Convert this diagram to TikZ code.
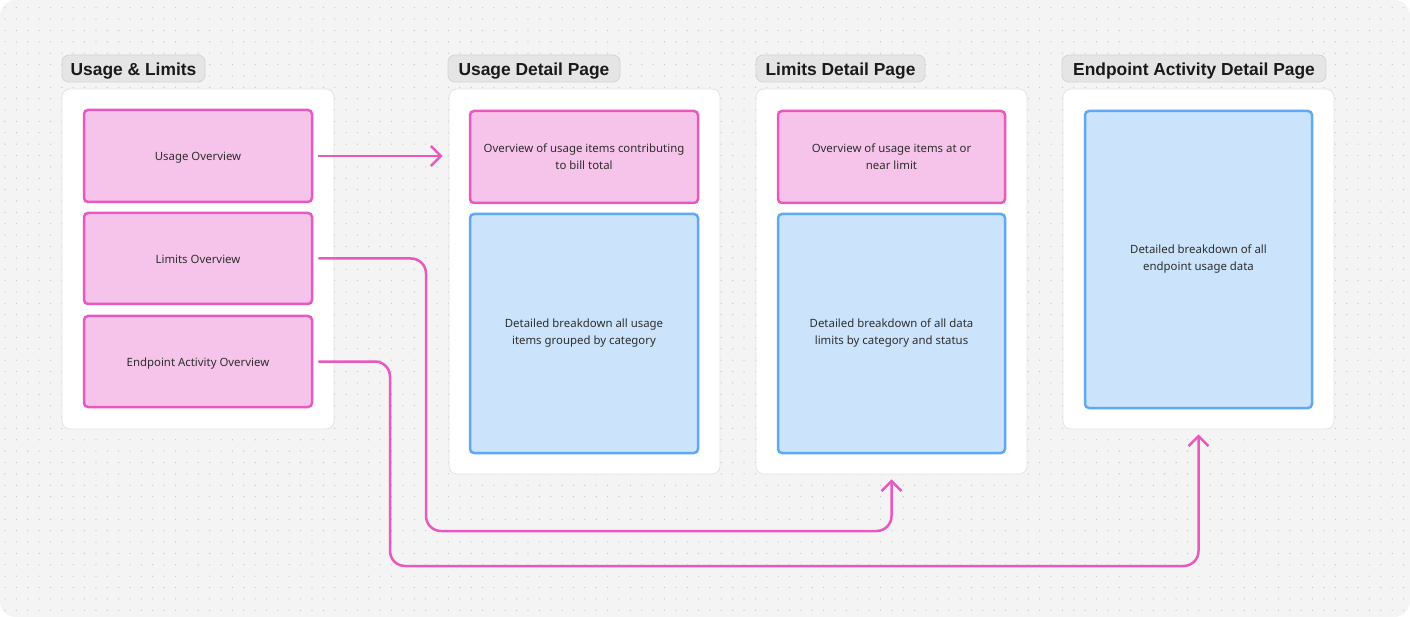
\documentclass[tikz,border=0pt]{standalone}
\usepackage{fontspec}
\setmainfont{Liberation Sans}
\newfontfamily\bodyfont{Noto Sans}
\usetikzlibrary{arrows.meta}
\definecolor{bgc}{HTML}{F4F4F4}
\definecolor{dotc}{HTML}{C4C4C4}
\definecolor{tagfill}{HTML}{E5E5E5}
\definecolor{tagdraw}{HTML}{D4D4D4}
\definecolor{paneldraw}{HTML}{E4E4E4}
\definecolor{pinkfill}{HTML}{F6C4EA}
\definecolor{pinkdraw}{HTML}{E858BE}
\definecolor{bluefill}{HTML}{CBE4FB}
\definecolor{bluedraw}{HTML}{5EA8F5}
\definecolor{txt}{HTML}{2E2E2E}
\definecolor{ttl}{HTML}{1A1A1A}
\tikzset{
  tag/.style={draw=tagdraw, fill=tagfill, line width=0.8pt, rounded corners=7pt, inner sep=0pt, minimum height=27pt, text height=14pt, text depth=0pt, font=\fontsize{17.4}{20}\selectfont\bfseries, text=ttl},
  panel/.style={draw=paneldraw, fill=white, line width=0.8pt, rounded corners=8pt, inner sep=0pt},
  boxbase/.style={line width=2.5pt, rounded corners=4pt, inner sep=0pt, align=center, font=\bodyfont\fontsize{11.4}{17}\selectfont, text=txt},
  oneline/.style={text height=9.5pt, text depth=0pt},
  pinkbox/.style={boxbase, draw=pinkdraw, fill=pinkfill},
  bluebox/.style={boxbase, draw=bluedraw, fill=bluefill},
  conn/.style={draw=pinkdraw, line width=2.5pt, rounded corners=15pt, -{Straight Barb[length=10pt,width=20pt]}}
}
\begin{document}
\begin{tikzpicture}[x=1pt,y=-1pt]
\useasboundingbox (0,0) rectangle (1410,617);
\fill[white] (0,0) rectangle (1410,617);
\fill[bgc, rounded corners=16pt] (0,0) rectangle (1410,617);
\foreach \i in {0,...,123} {
  \foreach \j in {0,...,53} {
    \fill[dotc] ({5+\i*11.37},{7.7+\j*11.37}) circle (0.65pt);
  }
}
% tags
\node[tag, minimum width=143pt] (t1) at (133.5,68.5) {Usage \& Limits};
\node[tag, minimum width=172pt] (t2) at (534,68.5) {Usage Detail Page};
\node[tag, minimum width=169pt] (t3) at (840.5,68.5) {Limits Detail Page};
\node[tag, minimum width=264pt] (t4) at (1194,68.5) {Endpoint Activity Detail Page};
% panels
\node[panel, minimum width=272pt, minimum height=340pt] (ulpanel) at (198,259) {};
\node[panel, minimum width=271pt, minimum height=385pt] (udpanel) at (584.5,281.5) {};
\node[panel, minimum width=271pt, minimum height=385pt] (ldpanel) at (891.5,281.5) {};
\node[panel, minimum width=271pt, minimum height=340pt] (eppanel) at (1198.5,259) {};
% boxes
\node[pinkbox, oneline, minimum width=228pt, minimum height=92pt] (uo) at (198,156) {Usage Overview};
\node[pinkbox, oneline, minimum width=228pt, minimum height=91pt] (lo) at (198,258.5) {Limits Overview};
\node[pinkbox, oneline, minimum width=228pt, minimum height=91pt] (eo) at (198,361.5) {Endpoint Activity Overview};
\node[pinkbox, minimum width=228pt, minimum height=92pt] (udp) at (584,157) {Overview of usage items contributing\\to bill total};
\node[bluebox, minimum width=228pt, minimum height=239pt] (udb) at (584,333.5) {Detailed breakdown all usage\\items grouped by category};
\node[pinkbox, minimum width=227pt, minimum height=92pt] (ldp) at (891.5,157) {Overview of usage items at or\\near limit};
\node[bluebox, minimum width=227pt, minimum height=239pt] (ldb) at (891.5,333.5) {Detailed breakdown of all data\\limits by category and status};
\node[bluebox, minimum width=227pt, minimum height=297pt] (epb) at (1198.5,259.5) {Detailed breakdown of all\\endpoint usage data};
% connectors
\draw[conn, shorten <=5pt, shorten >=6pt] (uo.east) -- (udpanel.west |- uo.east);
\draw[conn, shorten <=5pt, shorten >=5pt] (lo.east) -- (426,258.5) -- (426,531) -- (891.5,531) -- (ldpanel.south);
\draw[conn, shorten <=5pt, shorten >=5pt] (eo.east) -- (390,361.5) -- (390,566) -- (1198.5,566) -- (eppanel.south);
\end{tikzpicture}
\end{document}
